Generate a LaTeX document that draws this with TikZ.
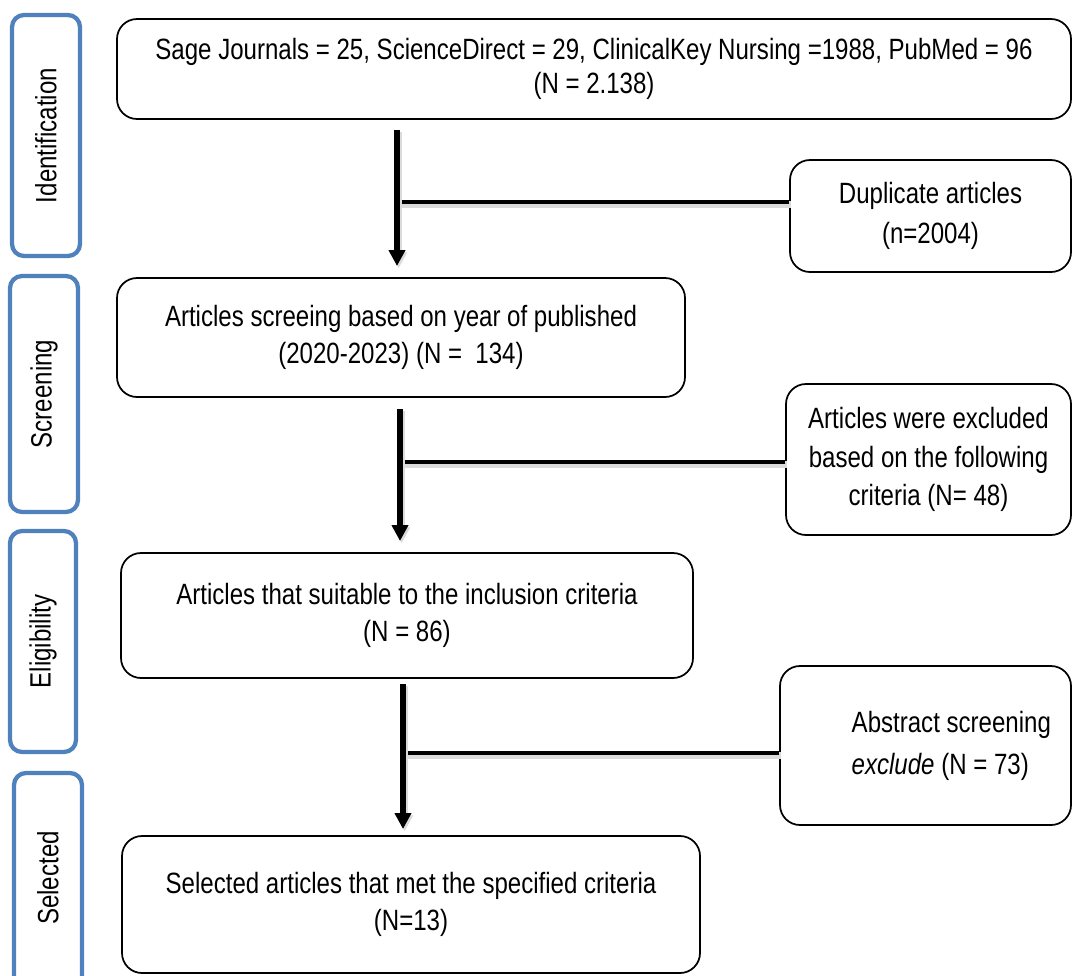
\documentclass[tikz,border=0pt]{standalone}
\usepackage{fontspec}
\setmainfont[FakeStretch=0.82]{Liberation Sans}
\usetikzlibrary{arrows.meta}
\definecolor{sideblue}{HTML}{4F81BD}
\tikzset{
  stagebox/.style={draw=black, line width=1.3pt, rounded corners=15pt, align=center,
    font=\fontsize{22pt}{28pt}\selectfont, inner sep=0pt},
  sidebox/.style={draw=sideblue, line width=3.2pt, rounded corners=9pt, minimum width=51pt},
  sidelabel/.style={rotate=90, font=\fontsize{22pt}{26pt}\selectfont},
  lineshadow/.style={preaction={draw=black!14, line width=5pt, transform canvas={shift={(1.2pt,-1.8pt)}}}},
  flow/.style={line width=3.9pt, -{Triangle[length=12pt,width=12pt]}, lineshadow},
  branch/.style={line width=3.6pt, lineshadow}
}
\begin{document}
\begin{tikzpicture}[x=0.75pt,y=-0.75pt]
\useasboundingbox (0,0) rectangle (1073,975);
\fill[white] (0,0) rectangle (1073,975);
\begin{scope}
\clip (0,0) rectangle (1073,975);
% side stage boxes
\node[sidebox, minimum height=180.75pt] (ident) at (46,135.5) {};
\node[sidelabel] (identl) at (ident.center) {Identification};
\node[sidebox, minimum height=177pt] (scr) at (44,394) {};
\node[sidelabel] (scrl) at (scr.center) {Screening};
\node[sidebox, minimum height=165.75pt, minimum width=49.5pt] (elig) at (43,641.5) {};
\node[sidelabel] (eligl) at (elig.center) {Eligibility};
\node[sidebox, minimum height=162.75pt] (sel) at (48,881.5) {};
\node[sidelabel] (sell) at (48,878) {Selected};

% connectors
\coordinate (a1s) at (397,130);
\coordinate (a1e) at (397,266);
\coordinate (a2s) at (400,409);
\coordinate (a2e) at (400,541);
\coordinate (a3s) at (403,684);
\coordinate (a3e) at (403,829);
\coordinate (h1) at (397,202);
\coordinate (h2) at (400,462);
\coordinate (h3) at (403,753);

% main boxes
\node[stagebox, minimum width=715.5pt, minimum height=75pt, font=\fontsize{22pt}{25pt}\selectfont] (b1) at (594,69)
  {Sage Journals = 25, ScienceDirect = 29, ClinicalKey Nursing =1988, PubMed = 96\\(N = 2.138)};
\node[stagebox, minimum width=210.75pt, minimum height=84pt, font=\fontsize{22pt}{30pt}\selectfont] (dup) at (930.5,216)
  {Duplicate articles\\(n=2004)};
\node[stagebox, minimum width=426pt, minimum height=89.25pt] (b2) at (401,337.5)
  {Articles screeing based on year of published\\(2020-2023) (N =\ \ 134)};
\node[stagebox, minimum width=213.75pt, minimum height=113.25pt, font=\fontsize{22pt}{29pt}\selectfont] (excl) at (928.5,459.5)
  {Articles were excluded\\based on the following\\criteria (N= 48)};
\node[stagebox, minimum width=429pt, minimum height=93.75pt] (b3) at (407,615.5)
  {Articles that suitable to the inclusion criteria\\(N = 86)};
\node[stagebox, minimum width=218.25pt, minimum height=119.25pt] (abs) at (925.5,745.5) {};
\node[align=left, anchor=west, font=\fontsize{22pt}{31pt}\selectfont] (abst) at (847,746)
  {Abstract screening\\\textit{exclude} (N = 73)};
\node[stagebox, minimum width=433.5pt, minimum height=102.75pt] (b4) at (411,904.5)
  {Selected articles that met the specified criteria\\(N=13)};

\draw[branch] (dup.west |- h1) -- (h1);
\draw[branch] (excl.west |- h2) -- (h2);
\draw[branch] (abs.west |- h3) -- (h3);
\draw[flow] (a1s) -- (a1e);
\draw[flow] (a2s) -- (a2e);
\draw[flow] (a3s) -- (a3e);
\end{scope}
\end{tikzpicture}
\end{document}
